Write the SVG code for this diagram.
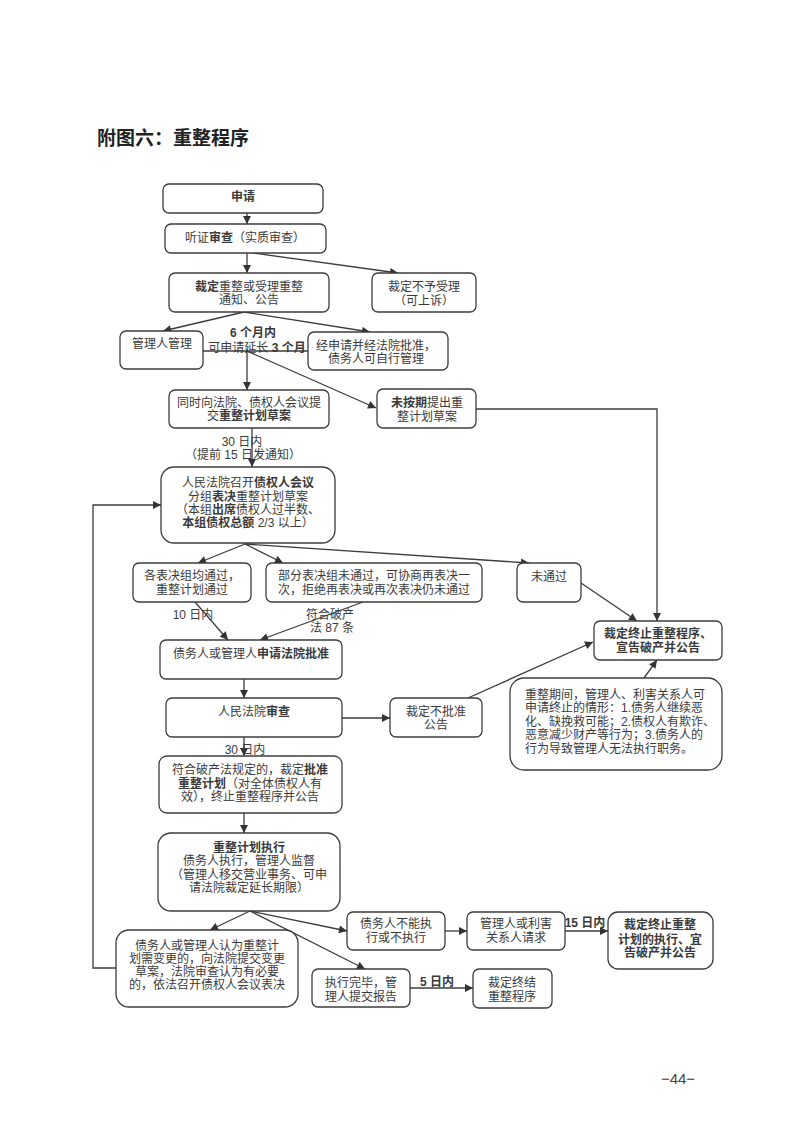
<svg xmlns="http://www.w3.org/2000/svg" width="793" height="1122" viewBox="0 0 793 1122">
<defs>
<marker id="ah" viewBox="0 0 10 10" refX="10" refY="5" markerWidth="9" markerHeight="8" markerUnits="userSpaceOnUse" orient="auto">
<path d="M0,0 L10,5 L0,10 z" fill="#333"/>
</marker>
<style>
.b{fill:#fff;stroke:#3c3c3c;stroke-width:1.3}
.t{font-family:"Liberation Sans","Noto Sans CJK SC",sans-serif;font-size:12px;fill:#3a3a3a;text-anchor:middle;dominant-baseline:central}
.l{text-anchor:start}
.bd{font-weight:bold}
.c{fill:none;stroke:#3c3c3c;stroke-width:1.3}
.a{marker-end:url(#ah)}
</style>
</defs>
<rect width="793" height="1122" fill="#fff"/>
<text x="97" y="136" style="font-family:'Noto Sans CJK SC',sans-serif;font-size:19px;font-weight:bold;fill:#222;dominant-baseline:central">附图六：重整程序</text>

<g id="connectors">
<path class="c a" d="M247,213 V224"/>
<path class="c a" d="M247,253 V273"/>
<path class="c a" d="M253,253 L398,273"/>
<path class="c a" d="M244,312 L163,331"/>
<path class="c a" d="M244,312 L370,332"/>
<path class="c" d="M203,351 H308"/>
<path class="c a" d="M247,351 V390"/>
<path class="c a" d="M247,351 L376,408"/>
<path class="c a" d="M476,409 H657 V621"/>
<path class="c a" d="M252,428 V467"/>
<path class="c a" d="M116,968 H93 V505 H161"/>
<path class="c a" d="M245,544 L198,563"/>
<path class="c a" d="M245,544 L283,563"/>
<path class="c a" d="M245,544 L529,563"/>
<path class="c a" d="M581,583 L637,621"/>
<path class="c a" d="M195,602 L228,640"/>
<path class="c a" d="M363,602 L260,640"/>
<path class="c a" d="M244,679 V698"/>
<path class="c a" d="M342,718 H390"/>
<path class="c a" d="M468,698 L593,642"/>
<path class="c a" d="M644,678 L657,660"/>
<path class="c a" d="M244,737 V756"/>
<path class="c a" d="M244,813 V833"/>
<path class="c a" d="M250,911 L210,930"/>
<path class="c a" d="M250,911 L347,931"/>
<path class="c a" d="M250,911 L365,969"/>
<path class="c a" d="M445,931 H467"/>
<path class="c a" d="M565,931 H608"/>
<path class="c a" d="M410,988 H473"/>
<text class="t" x="253" y="333"><tspan class="bd">6 个月内</tspan></text>
<text class="t" x="257" y="348">可申请延长 <tspan class="bd">3 个月</tspan></text>
<text class="t" x="242" y="442">30 日内</text>
<text class="t" x="243" y="455">（提前 15 日发通知）</text>
<text class="t" x="193" y="615">10 日内</text>
<text class="t" x="330" y="615">符合破产</text>
<text class="t" x="332" y="628">法 87 条</text>
<text class="t" x="245" y="750">30 日内</text>
<text class="t bd" x="585" y="923">15 日内</text>
<text class="t bd" x="437" y="982">5 日内</text>
</g>

<g id="n1"><rect class="b" x="163" y="184" width="160" height="29" rx="6"/><text class="t bd" x="243" y="197">申请</text></g>
<g id="n2"><rect class="b" x="165" y="224" width="161" height="29" rx="6"/><text class="t" x="245" y="238">听证<tspan class="bd">审查</tspan>（实质审查）</text></g>
<g id="n3"><rect class="b" x="169" y="273" width="160" height="39" rx="6"/><text class="t" x="249" y="287"><tspan class="bd">裁定</tspan>重整或受理重整</text><text class="t" x="249" y="300">通知、公告</text></g>
<g id="n4"><rect class="b" x="372" y="273" width="104" height="39" rx="6"/><text class="t" x="424" y="287">裁定不予受理</text><text class="t" x="424" y="301">（可上诉）</text></g>
<g id="n5"><rect class="b" x="120" y="331" width="83" height="38" rx="6"/><text class="t" x="162" y="344">管理人管理</text></g>
<g id="n6"><rect class="b" x="308" y="332" width="140" height="38" rx="6"/><text class="t" x="376" y="346">经申请并经法院批准，</text><text class="t" x="376" y="359">债务人可自行管理</text></g>
<g id="n7"><rect class="b" x="169" y="390" width="160" height="38" rx="6"/><text class="t" x="249" y="403">同时向法院、债权人会议提</text><text class="t" x="249" y="416">交<tspan class="bd">重整计划草案</tspan></text></g>
<g id="n8"><rect class="b" x="377" y="389" width="99" height="39" rx="6"/><text class="t" x="427" y="403"><tspan class="bd">未按期</tspan>提出重</text><text class="t" x="427" y="417">整计划草案</text></g>
<g id="n9"><rect class="b" x="161" y="467" width="174" height="76" rx="13"/>
<text class="t" x="248" y="483">人民法院召开<tspan class="bd">债权人会议</tspan></text>
<text class="t" x="248" y="497">分组<tspan class="bd">表决</tspan>重整计划草案</text>
<text class="t" x="248" y="510">（本组<tspan class="bd">出席</tspan>债权人过半数、</text>
<text class="t" x="248" y="523"><tspan class="bd">本组债权总额</tspan> 2/3 以上）</text></g>
<g id="n10"><rect class="b" x="133" y="563" width="118" height="39" rx="6"/><text class="t" x="192" y="576">各表决组均通过，</text><text class="t" x="192" y="590">重整计划通过</text></g>
<g id="n11"><rect class="b" x="266" y="563" width="216" height="39" rx="6"/><text class="t" x="374" y="576">部分表决组未通过，可协商再表决一</text><text class="t" x="374" y="590">次，拒绝再表决或再次表决仍未通过</text></g>
<g id="n12"><rect class="b" x="517" y="563" width="64" height="39" rx="6"/><text class="t" x="549" y="577">未通过</text></g>
<g id="n13"><rect class="b" x="594" y="621" width="128" height="39" rx="6"/><text class="t bd" x="658" y="634">裁定终止重整程序、</text><text class="t bd" x="658" y="648">宣告破产并公告</text></g>
<g id="n14"><rect class="b" x="510" y="678" width="212" height="92" rx="14"/>
<text class="t l" x="525" y="695">重整期间，管理人、利害关系人可</text>
<text class="t l" x="525" y="708">申请终止的情形：1.债务人继续恶</text>
<text class="t l" x="525" y="722">化、缺挽救可能；2.债权人有欺诈、</text>
<text class="t l" x="525" y="735">恶意减少财产等行为；3.债务人的</text>
<text class="t l" x="525" y="749">行为导致管理人无法执行职务。</text></g>
<g id="n15"><rect class="b" x="160" y="640" width="182" height="39" rx="6"/><text class="t" x="251" y="654">债务人或管理人<tspan class="bd">申请法院批准</tspan></text></g>
<g id="n16"><rect class="b" x="166" y="698" width="176" height="39" rx="6"/><text class="t" x="254" y="712">人民法院<tspan class="bd">审查</tspan></text></g>
<g id="n17"><rect class="b" x="390" y="698" width="92" height="39" rx="6"/><text class="t" x="436" y="712">裁定不批准</text><text class="t" x="436" y="725">公告</text></g>
<g id="n18"><rect class="b" x="159" y="756" width="183" height="57" rx="8"/>
<text class="t" x="250" y="770">符合破产法规定的，裁定<tspan class="bd">批准</tspan></text>
<text class="t" x="250" y="784"><tspan class="bd">重整计划</tspan>（对全体债权人有</text>
<text class="t" x="250" y="797">效），终止重整程序并公告</text></g>
<g id="n19"><rect class="b" x="158" y="833" width="182" height="78" rx="13"/>
<text class="t bd" x="249" y="848">重整计划执行</text>
<text class="t" x="249" y="861">债务人执行，管理人监督</text>
<text class="t" x="249" y="875">（管理人移交营业事务、可申</text>
<text class="t" x="249" y="888">请法院裁定延长期限）</text></g>
<g id="n20"><rect class="b" x="116" y="930" width="182" height="77" rx="13"/>
<text class="t" x="207" y="946">债务人或管理人认为重整计</text>
<text class="t" x="207" y="959">划需变更的，向法院提交变更</text>
<text class="t" x="207" y="972">草案，法院审查认为有必要</text>
<text class="t" x="207" y="985">的，依法召开债权人会议表决</text></g>
<g id="n21"><rect class="b" x="347" y="912" width="98" height="38" rx="6"/><text class="t" x="396" y="924">债务人不能执</text><text class="t" x="396" y="938">行或不执行</text></g>
<g id="n22"><rect class="b" x="467" y="912" width="98" height="38" rx="6"/><text class="t" x="516" y="924">管理人或利害</text><text class="t" x="516" y="938">关系人请求</text></g>
<g id="n23"><rect class="b" x="608" y="912" width="105" height="57" rx="10"/><text class="t bd" x="660" y="925">裁定终止重整</text><text class="t bd" x="660" y="940">计划的执行、宜</text><text class="t bd" x="660" y="953">告破产并公告</text></g>
<g id="n24"><rect class="b" x="312" y="969" width="98" height="38" rx="6"/><text class="t" x="361" y="983">执行完毕，管</text><text class="t" x="361" y="997">理人提交报告</text></g>
<g id="n25"><rect class="b" x="473" y="969" width="79" height="39" rx="6"/><text class="t" x="512" y="983">裁定终结</text><text class="t" x="512" y="997">重整程序</text></g>

<text x="678" y="1078" style="font-family:'Liberation Sans',sans-serif;font-size:15px;fill:#444;text-anchor:middle;dominant-baseline:central">−44−</text>
</svg>
